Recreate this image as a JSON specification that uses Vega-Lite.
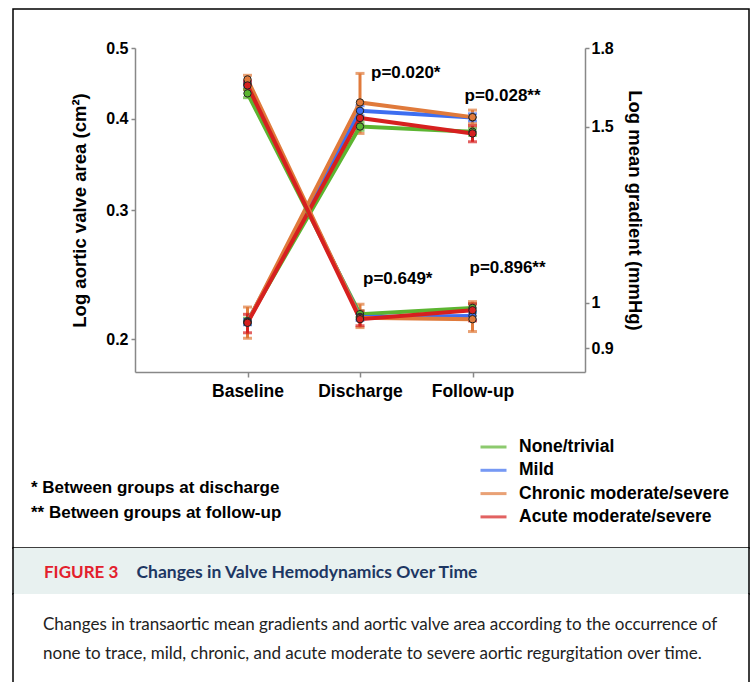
{
  "$schema": "https://vega.github.io/schema/vega-lite/v6.json",
  "background": "white",
  "padding": {"left": 11, "top": 8, "right": 9, "bottom": 0},
  "spacing": 0,
  "bounds": "flush",
  "config": {
    "view": {"stroke": null},
    "axis": {"grid": false, "labelFont": "Liberation Sans", "labelFontWeight": "bold", "labelColor": "black", "titleFont": "Liberation Sans", "titleFontWeight": "bold", "titleColor": "black", "titleFontSize": 18.5, "domainColor": "#888", "domainWidth": 1.5, "tickColor": "#888", "tickWidth": 1.5, "tickSize": 4}
  },
  "datasets": {
    "series": [
      {"measure": "AVA", "time": "Baseline", "group": "None/trivial", "value": 0.2118, "lo": 0.2098, "hi": 0.2138},
      {"measure": "AVA", "time": "Baseline", "group": "Mild", "value": 0.2112, "lo": 0.2094, "hi": 0.2130},
      {"measure": "AVA", "time": "Baseline", "group": "Chronic moderate/severe", "value": 0.2110, "lo": 0.2007, "hi": 0.2214},
      {"measure": "AVA", "time": "Baseline", "group": "Acute moderate/severe", "value": 0.2107, "lo": 0.2042, "hi": 0.2164},
      {"measure": "AVA", "time": "Discharge", "group": "None/trivial", "value": 0.3906, "lo": 0.3860, "hi": 0.3955},
      {"measure": "AVA", "time": "Discharge", "group": "Mild", "value": 0.4104, "lo": 0.4040, "hi": 0.4170},
      {"measure": "AVA", "time": "Discharge", "group": "Chronic moderate/severe", "value": 0.4213, "lo": 0.3822, "hi": 0.4616},
      {"measure": "AVA", "time": "Discharge", "group": "Acute moderate/severe", "value": 0.4012, "lo": 0.3914, "hi": 0.4110},
      {"measure": "AVA", "time": "Follow-up", "group": "None/trivial", "value": 0.3842, "lo": 0.3800, "hi": 0.3885},
      {"measure": "AVA", "time": "Follow-up", "group": "Mild", "value": 0.4019, "lo": 0.3974, "hi": 0.4065},
      {"measure": "AVA", "time": "Follow-up", "group": "Chronic moderate/severe", "value": 0.4023, "lo": 0.3940, "hi": 0.4113},
      {"measure": "AVA", "time": "Follow-up", "group": "Acute moderate/severe", "value": 0.3822, "lo": 0.3723, "hi": 0.3915},
      {"measure": "Gradient", "time": "Baseline", "group": "None/trivial", "value": 1.621, "lo": 1.605, "hi": 1.637},
      {"measure": "Gradient", "time": "Baseline", "group": "Mild", "value": 1.656, "lo": 1.648, "hi": 1.664},
      {"measure": "Gradient", "time": "Baseline", "group": "Chronic moderate/severe", "value": 1.674, "lo": 1.655, "hi": 1.690},
      {"measure": "Gradient", "time": "Baseline", "group": "Acute moderate/severe", "value": 1.651, "lo": 1.636, "hi": 1.667},
      {"measure": "Gradient", "time": "Discharge", "group": "None/trivial", "value": 0.9737, "lo": 0.966, "hi": 0.981},
      {"measure": "Gradient", "time": "Discharge", "group": "Mild", "value": 0.9676, "lo": 0.960, "hi": 0.975},
      {"measure": "Gradient", "time": "Discharge", "group": "Chronic moderate/severe", "value": 0.9654, "lo": 0.944, "hi": 0.9963},
      {"measure": "Gradient", "time": "Discharge", "group": "Acute moderate/severe", "value": 0.9625, "lo": 0.948, "hi": 0.981},
      {"measure": "Gradient", "time": "Follow-up", "group": "None/trivial", "value": 0.9878, "lo": 0.978, "hi": 0.997},
      {"measure": "Gradient", "time": "Follow-up", "group": "Mild", "value": 0.9698, "lo": 0.961, "hi": 0.978},
      {"measure": "Gradient", "time": "Follow-up", "group": "Chronic moderate/severe", "value": 0.9625, "lo": 0.9354, "hi": 1.0023},
      {"measure": "Gradient", "time": "Follow-up", "group": "Acute moderate/severe", "value": 0.9826, "lo": 0.9587, "hi": 0.997}
    ],
    "pvals": [
      {"measure": "AVA", "time": "Discharge", "value": 0.4625, "label": "p=0.020*", "note": "* Between groups at discharge"},
      {"measure": "AVA", "time": "Follow-up", "value": 0.4302, "label": "p=0.028**", "note": "** Between groups at follow-up"},
      {"measure": "Gradient", "time": "Discharge", "value": 1.056, "label": "p=0.649*", "note": "* Between groups at discharge"},
      {"measure": "Gradient", "time": "Follow-up", "value": 1.083, "label": "p=0.896**", "note": "** Between groups at follow-up"}
    ]
  },
  "vconcat": [
    {
      "width": 736,
      "height": 539,
      "view": {"stroke": "black", "strokeWidth": 1.5, "fill": "white"},
      "data": {"name": "series"},
      "encoding": {
        "x": {"field": "time", "type": "ordinal", "sort": ["Baseline", "Discharge", "Follow-up"], "scale": {"type": "point", "domain": ["Baseline", "Discharge", "Follow-up"], "range": [122, 572], "padding": 1}, "axis": {"orient": "bottom", "offset": -176, "title": null, "labelAngle": 0, "labelFontSize": 17.5, "labelPadding": 5, "tickSize": 5}}
      },
      "layer": [
        {
          "transform": [{"filter": "datum.measure === 'AVA'"}],
          "encoding": {
            "y": {"field": "value", "type": "quantitative", "scale": {"type": "log", "domain": [0.1805, 0.5], "range": [363, 39], "nice": false}, "axis": {"orient": "left", "offset": -122, "values": [0.2, 0.3, 0.4, 0.5], "format": "~g", "title": "Log aortic valve area (cm²)", "titlePadding": 16, "labelFontSize": 16, "labelPadding": 3}}
          },
          "layer": [
            {"mark": {"type": "rule", "strokeWidth": 3}, "encoding": {"y": {"field": "lo", "type": "quantitative", "scale": {"type": "log", "domain": [0.1805, 0.5], "range": [363, 39], "nice": false}, "axis": {"orient": "left", "offset": -122, "values": [0.2, 0.3, 0.4, 0.5], "format": "~g", "title": "Log aortic valve area (cm²)", "titlePadding": 16, "labelFontSize": 16, "labelPadding": 3}}, "y2": {"field": "hi"}, "color": {"field": "group", "type": "nominal", "scale": {"domain": ["None/trivial", "Mild", "Chronic moderate/severe", "Acute moderate/severe"], "range": ["#5cb531", "#3d6ef0", "#e07a3b", "#d6201f"]}, "legend": {"orient": "none", "legendX": 466, "legendY": 429, "title": null, "symbolType": "stroke", "symbolSize": 676, "symbolStrokeWidth": 3, "clipHeight": 18, "rowPadding": 5.3, "labelOffset": 11, "labelFont": "Liberation Sans", "labelFontSize": 17.5, "labelFontWeight": "bold", "labelColor": "black", "labelLimit": 400}}}},
            {"mark": {"type": "tick", "thickness": 3, "size": 9}, "encoding": {"y": {"field": "lo", "type": "quantitative", "scale": {"type": "log", "domain": [0.1805, 0.5], "range": [363, 39], "nice": false}, "axis": {"orient": "left", "offset": -122, "values": [0.2, 0.3, 0.4, 0.5], "format": "~g", "title": "Log aortic valve area (cm²)", "titlePadding": 16, "labelFontSize": 16, "labelPadding": 3}}, "color": {"field": "group", "type": "nominal"}}},
            {"mark": {"type": "tick", "thickness": 3, "size": 9}, "encoding": {"y": {"field": "hi", "type": "quantitative", "scale": {"type": "log", "domain": [0.1805, 0.5], "range": [363, 39], "nice": false}, "axis": {"orient": "left", "offset": -122, "values": [0.2, 0.3, 0.4, 0.5], "format": "~g", "title": "Log aortic valve area (cm²)", "titlePadding": 16, "labelFontSize": 16, "labelPadding": 3}}, "color": {"field": "group", "type": "nominal"}}},
            {"mark": {"type": "line", "strokeWidth": 4}, "encoding": {"color": {"field": "group", "type": "nominal"}}},
            {"mark": {"type": "point", "filled": true, "size": 55, "stroke": "#222", "strokeWidth": 1, "opacity": 1}, "encoding": {"fill": {"field": "group", "type": "nominal", "scale": {"domain": ["None/trivial", "Mild", "Chronic moderate/severe", "Acute moderate/severe"], "range": ["#5cb531", "#3d6ef0", "#e07a3b", "#d6201f"]}, "legend": null}}},
            {"data": {"name": "pvals"}, "transform": [{"filter": "datum.label === 'p=0.020*'"}], "mark": {"type": "text", "align": "left", "baseline": "middle", "dx": 11, "font": "Liberation Sans", "fontSize": 17, "fontWeight": "bold", "color": "black"}, "encoding": {"text": {"field": "label"}, "opacity": {"field": "note", "type": "ordinal", "scale": {"domain": ["* Between groups at discharge", "** Between groups at follow-up"], "range": [1, 1]}, "legend": {"orient": "none", "legendX": 1, "legendY": 470, "title": null, "symbolSize": 0, "symbolOpacity": 0, "symbolFillColor": "transparent", "symbolStrokeColor": "transparent", "labelOffset": 0, "clipHeight": 18, "rowPadding": 7, "labelFont": "Liberation Sans", "labelFontSize": 17, "labelFontWeight": "bold", "labelColor": "black", "labelLimit": 400, "encode": {"symbols": {"update": {"opacity": {"value": 0}}}}}}}},
            {"data": {"name": "pvals"}, "transform": [{"filter": "datum.label === 'p=0.028**'"}], "mark": {"type": "text", "align": "left", "baseline": "middle", "dx": -8, "font": "Liberation Sans", "fontSize": 17, "fontWeight": "bold", "color": "black"}, "encoding": {"text": {"field": "label"}, "opacity": {"field": "note", "type": "ordinal"}}}
          ]
        },
        {
          "transform": [{"filter": "datum.measure === 'Gradient'"}],
          "encoding": {
            "y": {"field": "value", "type": "quantitative", "scale": {"type": "log", "domain": [0.852, 1.8], "range": [363, 39], "nice": false}, "axis": {"orient": "right", "offset": -164, "values": [0.9, 1, 1.5, 1.8], "format": "~g", "title": "Log mean gradient (mmHg)", "titlePadding": 11, "labelFontSize": 16, "labelPadding": 2}}
          },
          "layer": [
            {"mark": {"type": "rule", "strokeWidth": 3}, "encoding": {"y": {"field": "lo", "type": "quantitative", "scale": {"type": "log", "domain": [0.852, 1.8], "range": [363, 39], "nice": false}, "axis": {"orient": "right", "offset": -164, "values": [0.9, 1, 1.5, 1.8], "format": "~g", "title": "Log mean gradient (mmHg)", "titlePadding": 11, "labelFontSize": 16, "labelPadding": 2}}, "y2": {"field": "hi"}, "color": {"field": "group", "type": "nominal"}}},
            {"mark": {"type": "tick", "thickness": 3, "size": 9}, "encoding": {"y": {"field": "lo", "type": "quantitative", "scale": {"type": "log", "domain": [0.852, 1.8], "range": [363, 39], "nice": false}, "axis": {"orient": "right", "offset": -164, "values": [0.9, 1, 1.5, 1.8], "format": "~g", "title": "Log mean gradient (mmHg)", "titlePadding": 11, "labelFontSize": 16, "labelPadding": 2}}, "color": {"field": "group", "type": "nominal"}}},
            {"mark": {"type": "tick", "thickness": 3, "size": 9}, "encoding": {"y": {"field": "hi", "type": "quantitative", "scale": {"type": "log", "domain": [0.852, 1.8], "range": [363, 39], "nice": false}, "axis": {"orient": "right", "offset": -164, "values": [0.9, 1, 1.5, 1.8], "format": "~g", "title": "Log mean gradient (mmHg)", "titlePadding": 11, "labelFontSize": 16, "labelPadding": 2}}, "color": {"field": "group", "type": "nominal"}}},
            {"mark": {"type": "line", "strokeWidth": 4}, "encoding": {"color": {"field": "group", "type": "nominal"}}},
            {"mark": {"type": "point", "filled": true, "size": 55, "stroke": "#222", "strokeWidth": 1, "opacity": 1}, "encoding": {"fill": {"field": "group", "type": "nominal", "legend": null}}},
            {"data": {"name": "pvals"}, "transform": [{"filter": "datum.label === 'p=0.649*'"}], "mark": {"type": "text", "align": "left", "baseline": "middle", "dx": 3, "font": "Liberation Sans", "fontSize": 17, "fontWeight": "bold", "color": "black"}, "encoding": {"text": {"field": "label"}, "opacity": {"field": "note", "type": "ordinal"}}},
            {"data": {"name": "pvals"}, "transform": [{"filter": "datum.label === 'p=0.896**'"}], "mark": {"type": "text", "align": "left", "baseline": "middle", "dx": -3, "font": "Liberation Sans", "fontSize": 17, "fontWeight": "bold", "color": "black"}, "encoding": {"text": {"field": "label"}, "opacity": {"field": "note", "type": "ordinal"}}}
          ]
        }
      ],
      "resolve": {"scale": {"y": "independent"}, "axis": {"y": "independent"}}
    },
    {
      "width": 736,
      "height": 46,
      "view": {"fill": "#e8f1f0", "stroke": "black", "strokeWidth": 1.5, "strokeCap": "square", "strokeDash": [0, 736, 46, 736, 46]},
      "data": {"values": [{"head": "Changes in Valve Hemodynamics Over Time"}]},
      "mark": {"type": "point", "opacity": 0},
      "encoding": {
        "shape": {"field": "head", "type": "nominal", "legend": {"orient": "none", "legendX": 31, "legendY": 16, "direction": "horizontal", "title": "FIGURE 3", "titleOrient": "left", "titleColor": "#e3202c", "titleFont": "Lato", "titleFontSize": 17, "titleFontWeight": "bold", "titlePadding": 0, "titleBaseline": "middle", "labelColor": "#1d3763", "labelFont": "Lato", "labelFontSize": 17.5, "labelFontWeight": "bold", "labelLimit": 600, "symbolSize": 0, "symbolOpacity": 0, "symbolFillColor": "transparent", "symbolStrokeColor": "transparent", "labelOffset": 0, "clipHeight": 18, "encode": {"symbols": {"update": {"opacity": {"value": 0}}}}}}
      }
    },
    {
      "width": 736,
      "height": 100,
      "view": {"fill": "white", "stroke": "black", "strokeWidth": 1.5, "strokeCap": "square", "strokeDash": [0, 736, 10000]},
      "data": {"values": [
        {"caption": "Changes in transaortic mean gradients and aortic valve area according to the occurrence of"},
        {"caption": "none to trace, mild, chronic, and acute moderate to severe aortic regurgitation over time."}
      ]},
      "mark": {"type": "point", "opacity": 0},
      "encoding": {
        "size": {"field": "caption", "type": "ordinal", "scale": {"domain": ["Changes in transaortic mean gradients and aortic valve area according to the occurrence of", "none to trace, mild, chronic, and acute moderate to severe aortic regurgitation over time."], "range": [1, 1]}, "legend": {"orient": "none", "legendX": 13, "legendY": 22, "title": null, "labelFont": "Lato", "labelFontSize": 17, "labelColor": "#222", "labelLimit": 740, "symbolSize": 0, "symbolOpacity": 0, "symbolFillColor": "transparent", "symbolStrokeColor": "transparent", "labelOffset": 0, "clipHeight": 18, "rowPadding": 11, "encode": {"symbols": {"update": {"opacity": {"value": 0}}}}}}
      }
    }
  ],
  "resolve": {"scale": {"color": "independent", "opacity": "independent", "shape": "independent", "size": "independent"}, "legend": {"color": "independent", "opacity": "independent", "shape": "independent", "size": "independent"}}
}
